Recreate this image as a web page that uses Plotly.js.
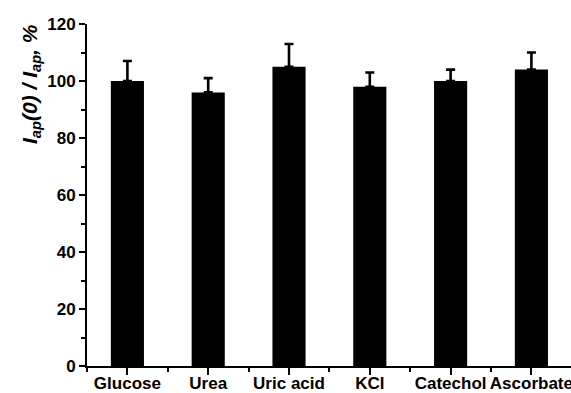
<!DOCTYPE html>
<html>
<head>
<meta charset="utf-8">
<script src="https://cdn.plot.ly/plotly-3.0.1.min.js"></script>
<style>
  html, body { margin: 0; padding: 0; background: #fff; }
  #chart { width: 571px; height: 393px; }
</style>
</head>
<body>
<div id="chart"></div>
<script>
// Interferent species tested
const categories = ["Glucose", "Urea", "Uric acid", "KCl", "Catechol", "Ascorbate"];
// Relative response I_ap(0)/I_ap, %
const responses = [100, 96, 105, 98, 100, 104];
// Standard deviation (upper error bar), %
const errors = [7, 5, 8, 5, 4, 6];
// Y-axis tick values
const yTicks = [0, 20, 40, 60, 80, 100, 120];

const positions = categories.map((_, i) => i);
const font = "Liberation Sans, Arial, sans-serif";
const bold = s => "<b>" + s + "</b>";

const trace = {
  type: "bar",
  x: positions,
  y: responses,
  width: 0.41,
  marker: { color: "#000000", line: { width: 0 } },
  error_y: {
    type: "data",
    symmetric: false,
    array: errors,
    arrayminus: errors.map(() => 0),
    color: "#000000",
    thickness: 2.6,
    width: 4.5
  },
  hoverinfo: "skip"
};

const layout = {
  width: 571,
  height: 393,
  margin: { l: 87, r: 0, t: 24, b: 27 },
  paper_bgcolor: "#ffffff",
  plot_bgcolor: "#ffffff",
  showlegend: false,
  font: { family: font, size: 17, color: "#000000" },
  xaxis: {
    range: [-0.5, 5.49],
    tickmode: "array",
    tickvals: positions,
    ticktext: categories.map(bold),
    tickangle: 0,
    ticks: "outside",
    ticklen: 7,
    tickwidth: 2,
    tickcolor: "#000000",
    ticklabeloverflow: "allow",
    ticklabelstandoff: -6,
    showline: true,
    linecolor: "#000000",
    linewidth: 2,
    showgrid: false,
    zeroline: false,
    tickfont: { family: font, size: 17, color: "#000000", weight: 700 },
    minor: { tick0: 0.5, dtick: 1, ticks: "outside", ticklen: 4, tickwidth: 2, tickcolor: "#000000" }
  },
  yaxis: {
    range: [0, 120],
    tickmode: "array",
    tickvals: yTicks,
    ticktext: yTicks.map(v => bold(String(v))),
    ticks: "outside",
    ticklen: 6,
    tickwidth: 2,
    tickcolor: "#000000",
    showline: true,
    linecolor: "#000000",
    linewidth: 2,
    showgrid: false,
    zeroline: false,
    tickfont: { family: font, size: 17, color: "#000000", weight: 700 },
    minor: { tick0: 10, dtick: 20, ticks: "outside", ticklen: 4, tickwidth: 2, tickcolor: "#000000" }
  },
  annotations: [{
    text: "<b><i>I</i><sub><i>ap</i></sub><i>(0) / I</i><sub><i>ap</i></sub><i>, %</i></b>",
    textangle: -90,
    xref: "paper",
    yref: "paper",
    x: -0.1157,
    y: 0.8246,
    xanchor: "center",
    yanchor: "middle",
    showarrow: false,
    font: { family: font, size: 21, color: "#000000", weight: 700 }
  }]
};

Plotly.newPlot("chart", [trace], layout, { staticPlot: true, displayModeBar: false });
</script>
</body>
</html>
